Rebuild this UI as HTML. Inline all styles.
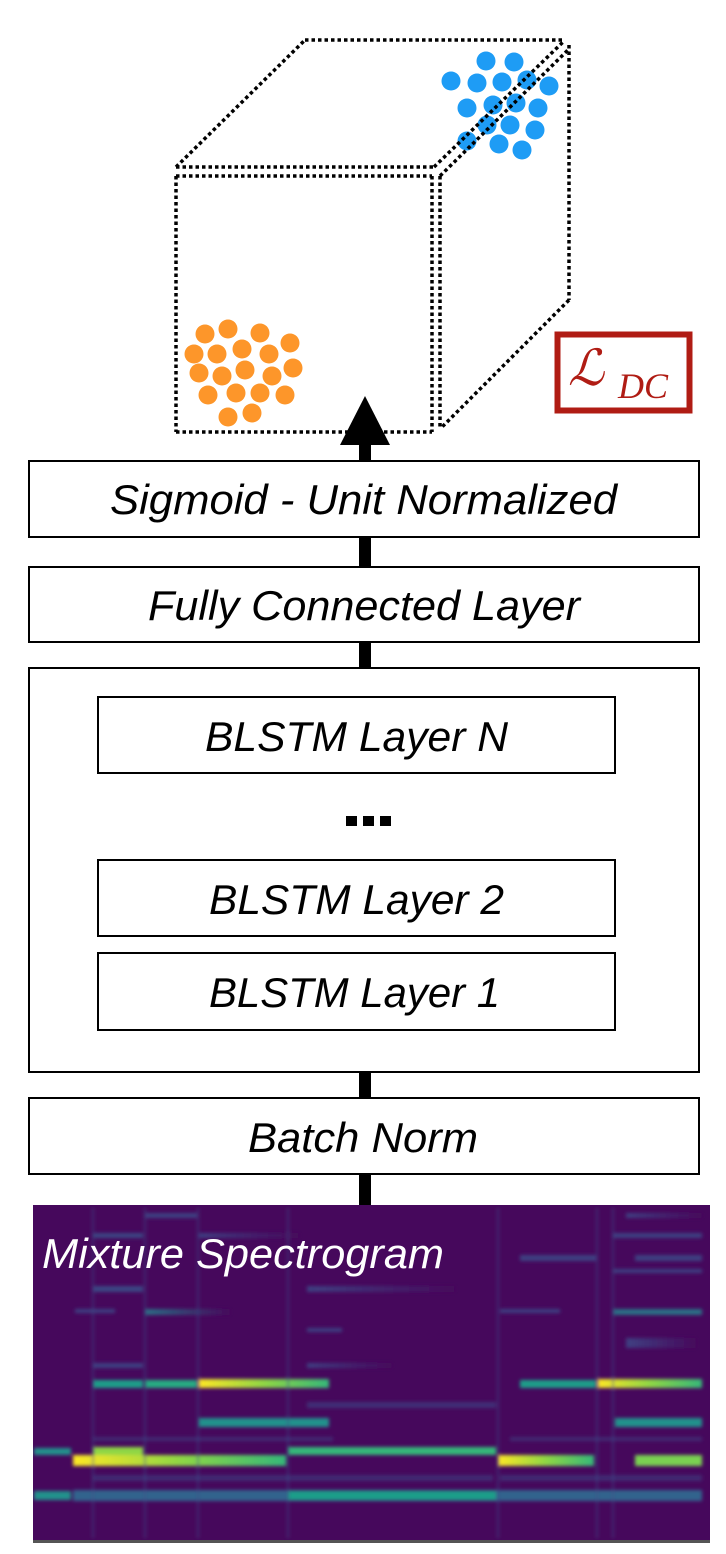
<!DOCTYPE html>
<html><head><meta charset="utf-8"><style>
html,body{margin:0;padding:0;background:#fff;}
svg{display:block;}
</style></head><body>
<svg width="726" height="1554" viewBox="0 0 726 1554" xmlns="http://www.w3.org/2000/svg">
<defs>
<linearGradient id="yg" x1="0" x2="1"><stop offset="0" stop-color="#fde725"/><stop offset="0.5" stop-color="#8fd744"/><stop offset="1" stop-color="#35b779"/></linearGradient>
<linearGradient id="fadeP" x1="0" x2="1"><stop offset="0" stop-color="#3e4a89"/><stop offset="1" stop-color="#46085c"/></linearGradient>
<linearGradient id="fadeT" x1="0" x2="1"><stop offset="0" stop-color="#26828e"/><stop offset="1" stop-color="#46085c"/></linearGradient>
<filter id="bl" x="-5%" y="-5%" width="110%" height="110%"><feGaussianBlur stdDeviation="1.8"/></filter>
<clipPath id="sp"><rect x="33" y="1205" width="677" height="335"/></clipPath>
</defs>
<!-- cube -->
<g fill="none" stroke="#000" stroke-width="3.5" stroke-dasharray="3.5 3">
<line x1="305" y1="40" x2="563" y2="40"/>
<line x1="176" y1="167" x2="305" y2="40"/>
<line x1="569" y1="45" x2="569" y2="300"/>
<line x1="569" y1="300" x2="441" y2="428"/>
<line x1="176" y1="167" x2="434" y2="167"/>
<line x1="176" y1="176" x2="432" y2="176"/>
<line x1="176" y1="176" x2="176" y2="432"/>
<line x1="176" y1="432" x2="432" y2="432"/>
<line x1="432" y1="176" x2="432" y2="432"/>
<line x1="440" y1="176" x2="440" y2="428"/>
</g>
<g fill="#1e9cf5">
<circle cx="486" cy="61" r="9.5"/><circle cx="514" cy="62" r="9.5"/><circle cx="451" cy="81" r="9.5"/><circle cx="477" cy="83" r="9.5"/><circle cx="502" cy="82" r="9.5"/><circle cx="527" cy="80" r="9.5"/><circle cx="549" cy="86" r="9.5"/><circle cx="467" cy="108" r="9.5"/><circle cx="493" cy="105" r="9.5"/><circle cx="516" cy="103" r="9.5"/><circle cx="538" cy="108" r="9.5"/><circle cx="487" cy="125" r="9.5"/><circle cx="510" cy="125" r="9.5"/><circle cx="535" cy="130" r="9.5"/><circle cx="467" cy="141" r="9.5"/><circle cx="499" cy="144" r="9.5"/><circle cx="522" cy="150" r="9.5"/>
</g>
<g fill="none" stroke="#000" stroke-width="3.5" stroke-dasharray="3.5 3">
<line x1="434" y1="167" x2="563" y2="42"/>
<line x1="440" y1="176" x2="569" y2="49"/>
</g>
<g fill="#fd962a">
<circle cx="205" cy="334" r="9.5"/><circle cx="228" cy="329" r="9.5"/><circle cx="260" cy="333" r="9.5"/><circle cx="290" cy="343" r="9.5"/><circle cx="194" cy="354" r="9.5"/><circle cx="217" cy="354" r="9.5"/><circle cx="242" cy="349" r="9.5"/><circle cx="269" cy="354" r="9.5"/><circle cx="199" cy="373" r="9.5"/><circle cx="222" cy="376" r="9.5"/><circle cx="245" cy="370" r="9.5"/><circle cx="272" cy="376" r="9.5"/><circle cx="293" cy="368" r="9.5"/><circle cx="208" cy="395" r="9.5"/><circle cx="236" cy="393" r="9.5"/><circle cx="260" cy="393" r="9.5"/><circle cx="285" cy="395" r="9.5"/><circle cx="228" cy="417" r="9.5"/><circle cx="252" cy="413" r="9.5"/>
</g>
<!-- L_DC -->
<rect x="557.5" y="334.5" width="132" height="76" fill="#fff" stroke="#b01c14" stroke-width="6"/>
<text x="568" y="385" style="font-family:'DejaVu Serif','Liberation Serif',serif;font-size:50px;font-style:italic" fill="#b01c14">ℒ</text>
<text x="618" y="398" style="font-family:'Liberation Serif',serif;font-size:36px;font-style:italic" fill="#b01c14">DC</text>
<!-- spine -->
<rect x="359" y="440" width="12" height="770" fill="#000"/>
<polygon points="365,396 340,445 390,445" fill="#000"/>
<!-- boxes -->
<g fill="#fff" stroke="#000" stroke-width="2">
<rect x="29" y="461" width="670" height="76"/>
<rect x="29" y="567" width="670" height="75"/>
<rect x="29" y="668" width="670" height="404"/>
<rect x="98" y="697" width="517" height="76"/>
<rect x="98" y="860" width="517" height="76"/>
<rect x="98" y="953" width="517" height="77"/>
<rect x="29" y="1098" width="670" height="76"/>
</g>
<g style="font-family:'Liberation Sans',sans-serif;font-style:italic;font-size:42px" fill="#000">
<text x="110" y="514" textLength="507" lengthAdjust="spacingAndGlyphs">Sigmoid - Unit Normalized</text>
<text x="148" y="620" textLength="432" lengthAdjust="spacingAndGlyphs">Fully Connected Layer</text>
<text x="205" y="751" textLength="303" lengthAdjust="spacingAndGlyphs">BLSTM Layer N</text>
<text x="209" y="914" textLength="295" lengthAdjust="spacingAndGlyphs">BLSTM Layer 2</text>
<text x="209" y="1007" textLength="291" lengthAdjust="spacingAndGlyphs">BLSTM Layer 1</text>
<text x="248" y="1152" textLength="230" lengthAdjust="spacingAndGlyphs">Batch Norm</text>
</g>
<rect x="346" y="816" width="11" height="10"/><rect x="363" y="816" width="11" height="10"/><rect x="380" y="816" width="11" height="10"/>
<!-- spectrogram -->
<rect x="33" y="1205" width="677" height="337" fill="#46085c"/>
<rect x="33" y="1540" width="677" height="3" fill="#555"/>
<g clip-path="url(#sp)"><g filter="url(#bl)">
<g opacity="0.85">
<rect x="145" y="1213" width="52" height="5" fill="#3e4a89"/>
<rect x="626" y="1213" width="76" height="5" fill="url(#fadeP)"/>
<rect x="93" y="1233" width="50" height="5" fill="#3b528b"/>
<rect x="199" y="1233" width="100" height="5" fill="url(#fadeP)"/>
<rect x="613" y="1233" width="89" height="5" fill="#3e4a89"/>
<rect x="520" y="1255" width="76" height="6" fill="#3e4a89"/>
<rect x="635" y="1255" width="67" height="6" fill="#3e4a89"/>
<rect x="613" y="1269" width="89" height="4" fill="#3e4a89"/>
<rect x="93" y="1286" width="50" height="6" fill="#3b528b"/>
<rect x="307" y="1286" width="148" height="6" fill="url(#fadeP)"/>
<rect x="145" y="1309" width="85" height="6" fill="url(#fadeT)"/>
<rect x="75" y="1309" width="40" height="4" fill="#3e4a89"/>
<rect x="613" y="1309" width="89" height="6" fill="#26828e"/>
<rect x="500" y="1309" width="60" height="4" fill="#3e4a89"/>
<rect x="307" y="1328" width="35" height="4" fill="#3e4a89"/>
<rect x="626" y="1338" width="70" height="10" fill="url(#fadeP)"/>
<rect x="93" y="1363" width="50" height="5" fill="#3e4a89"/>
<rect x="307" y="1363" width="85" height="5" fill="url(#fadeP)"/>
<rect x="307" y="1402" width="189" height="6" fill="#3e4a89" opacity="0.7"/>
<rect x="93" y="1437" width="240" height="4" fill="#3e4a89" opacity="0.6"/>
<rect x="510" y="1437" width="192" height="4" fill="#3e4a89" opacity="0.6"/>
<rect x="93" y="1475" width="400" height="6" fill="#3e4a89" opacity="0.6"/>
<rect x="500" y="1475" width="202" height="6" fill="#3e4a89" opacity="0.6"/>
</g>
<rect x="93" y="1380" width="50" height="8" fill="#1f9e89"/>
<rect x="145" y="1380" width="52" height="8" fill="#25ab82"/>
<rect x="199" y="1379" width="130" height="9" fill="url(#yg)"/>
<rect x="520" y="1380" width="76" height="8" fill="#1f9e89"/>
<rect x="598" y="1379" width="104" height="9" fill="url(#yg)"/>
<rect x="199" y="1418" width="130" height="9" fill="#21918c"/>
<rect x="615" y="1418" width="87" height="9" fill="#21918c"/>
<rect x="34" y="1448" width="37" height="7" fill="#21918c"/>
<rect x="93" y="1447" width="50" height="9" fill="#8fd744"/>
<rect x="288" y="1447" width="208" height="8" fill="#35b779"/>
<rect x="73" y="1455" width="213" height="11" fill="url(#yg)"/>
<rect x="498" y="1455" width="96" height="11" fill="url(#yg)"/>
<rect x="635" y="1455" width="67" height="11" fill="#7ad151"/>
<rect x="34" y="1491" width="37" height="9" fill="#21918c"/>
<rect x="73" y="1490" width="629" height="11" fill="#33638d"/>
<rect x="288" y="1491" width="208" height="9" fill="#1f9e89"/>
<g fill="#3e4a89" opacity="0.5">
<rect x="92" y="1208" width="2" height="330"/><rect x="144" y="1208" width="2" height="330"/><rect x="197" y="1208" width="2" height="330"/><rect x="287" y="1208" width="2" height="330"/><rect x="497" y="1208" width="2" height="330"/><rect x="596" y="1208" width="2" height="330"/><rect x="612" y="1208" width="2" height="330"/>
</g>
</g></g>
<text x="42" y="1268" style="font-family:'Liberation Sans',sans-serif;font-style:italic;font-size:42px" fill="#fff" textLength="402" lengthAdjust="spacingAndGlyphs">Mixture Spectrogram</text>
</svg>
</body></html>
